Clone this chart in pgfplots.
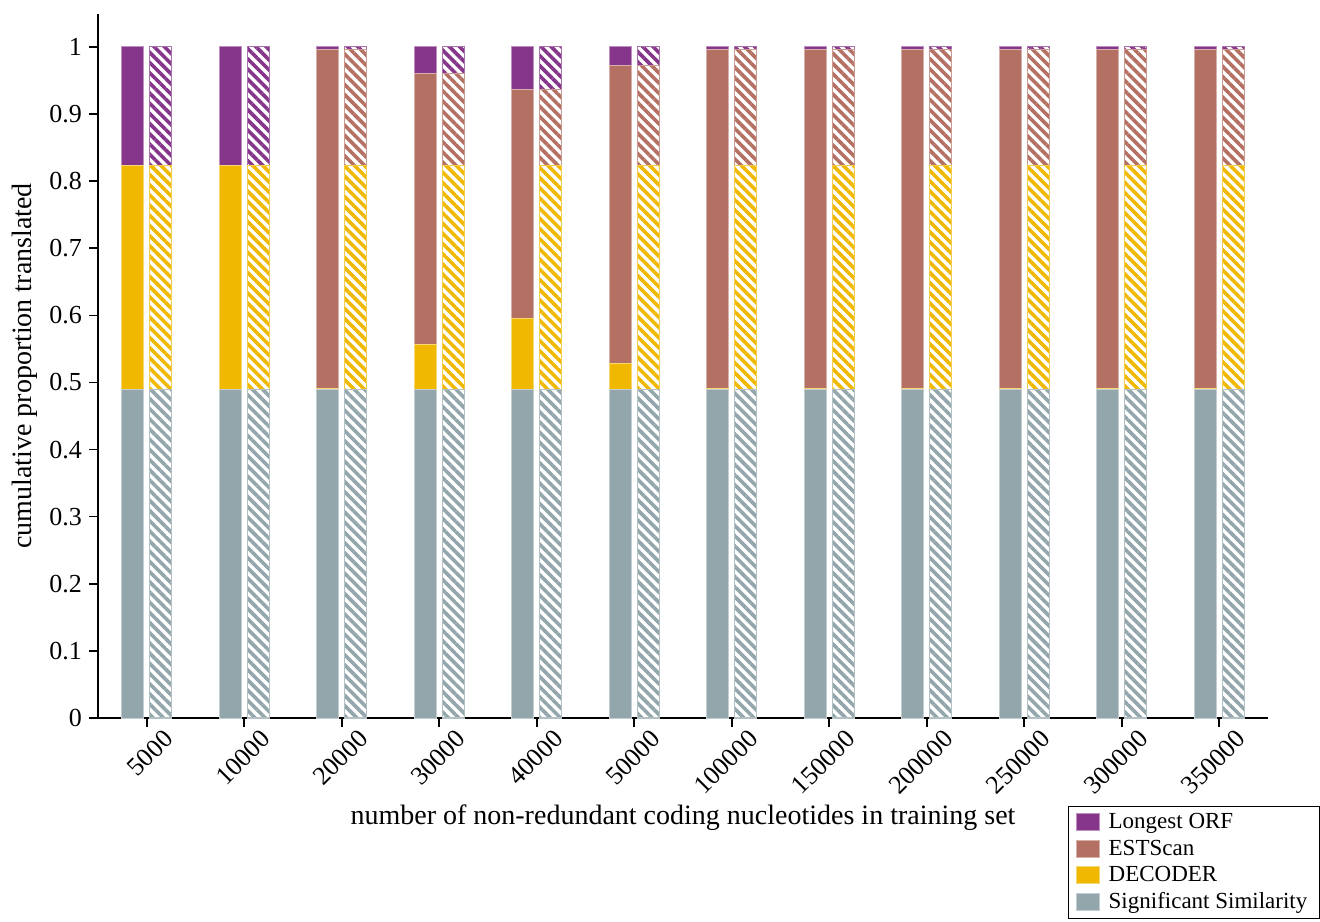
\documentclass[border=0pt]{standalone}
\usepackage{fontspec}
\setmainfont{Liberation Serif}
\usepackage{pgfplots}
\usepackage{pgfplotstable}
\pgfplotsset{compat=1.18}
\usetikzlibrary{patterns.meta}
\definecolor{corf}{HTML}{85358A}
\definecolor{cest}{HTML}{B57064}
\definecolor{cdec}{HTML}{F0B800}
\definecolor{css}{HTML}{93A6AC}

\pgfplotstableread{
x ss dec est orf
0 0.489 0.334 0.000 0.177
1 0.489 0.334 0.000 0.177
2 0.489 0.002 0.505 0.004
3 0.489 0.067 0.404 0.040
4 0.489 0.106 0.342 0.063
5 0.489 0.039 0.444 0.028
6 0.489 0.002 0.505 0.004
7 0.489 0.002 0.505 0.004
8 0.489 0.002 0.505 0.004
9 0.489 0.002 0.505 0.004
10 0.489 0.002 0.505 0.004
11 0.489 0.002 0.505 0.004
}\solid

\pgfplotstableread{
x ss dec est orf
0 0.489 0.334 0.000 0.177
1 0.489 0.334 0.000 0.177
2 0.489 0.334 0.173 0.004
3 0.489 0.334 0.137 0.040
4 0.489 0.334 0.114 0.063
5 0.489 0.334 0.149 0.028
6 0.489 0.334 0.173 0.004
7 0.489 0.334 0.173 0.004
8 0.489 0.334 0.173 0.004
9 0.489 0.334 0.173 0.004
10 0.489 0.334 0.173 0.004
11 0.489 0.334 0.173 0.004
}\hatched

\pgfplotsset{
  base/.style={
    scale only axis, width=585pt, height=352pt,
    xmin=-0.5, xmax=11.5, ymin=0, ymax=1.049,
    ybar stacked, bar width=11pt,
  },
  sol/.style={fill=#1, draw=#1!55!white, line width=0.5pt},
  hat/.style={pattern={Lines[angle=-45,distance=3.6pt,line width=1.8pt]}, pattern color=#1, draw=#1!70!white, line width=0.6pt},
}

\begin{document}
\begin{tikzpicture}
\begin{axis}[base,
  bar shift=-7pt,
  axis lines=left, axis line style={-, line width=0.8pt},
  tick align=outside, major tick length=4.5pt,
  tick style={black, line width=0.8pt},
  xtick={0,...,11},
  xticklabels={5000,10000,20000,30000,40000,50000,100000,150000,200000,250000,300000,350000},
  ytick={0,0.1,...,1.01},
  /pgf/number format/assume math mode=true,
  yticklabel style={font=\fontsize{13}{15}\selectfont},
  xticklabel style={font=\fontsize{13}{15}\selectfont, rotate=45, anchor=north east, xshift=8.5pt, yshift=-2.5pt},
  ylabel={cumulative proportion translated},
  ylabel style={at={(axis description cs:-0.0624,0.5)}, anchor=center, font=\fontsize{14}{16}\selectfont},
  xlabel={number of non-redundant coding nucleotides in training set},
  xlabel style={at={(axis description cs:0.5,-0.141)}, anchor=center, font=\fontsize{14}{16}\selectfont},
  reverse legend,
  legend style={at={(axis description cs:1.0444,-0.125)}, anchor=north east, draw=black, line width=0.6pt,
    font=\fontsize{11.5}{13}\selectfont, cells={anchor=west}, row sep=0pt, inner xsep=4pt, inner ysep=1.5pt},
  legend image code/.code={\draw[#1, line width=0.3pt] (0pt,-4pt) rectangle (11.5pt,4.5pt); \path[draw=none,fill=none,pattern=none] (0pt,0pt) -- (14pt,0pt);},
]
\addplot[sol=css] table[x=x,y=ss]{\solid};
\addplot[sol=cdec] table[x=x,y=dec]{\solid};
\addplot[sol=cest] table[x=x,y=est]{\solid};
\addplot[sol=corf] table[x=x,y=orf]{\solid};
\legend{Significant Similarity,DECODER,ESTScan,Longest ORF}
\coordinate (O) at (rel axis cs:0,0);
\end{axis}
\begin{axis}[base, bar shift=7pt, hide axis]
\addplot[hat=css] table[x=x,y=ss]{\hatched};
\addplot[hat=cdec] table[x=x,y=dec]{\hatched};
\addplot[hat=cest] table[x=x,y=est]{\hatched};
\addplot[hat=corf] table[x=x,y=orf]{\hatched};
\end{axis}
\path (O) ++(-49pt,-101.5pt) rectangle ++(660pt,460.5pt);
\end{tikzpicture}
\end{document}
